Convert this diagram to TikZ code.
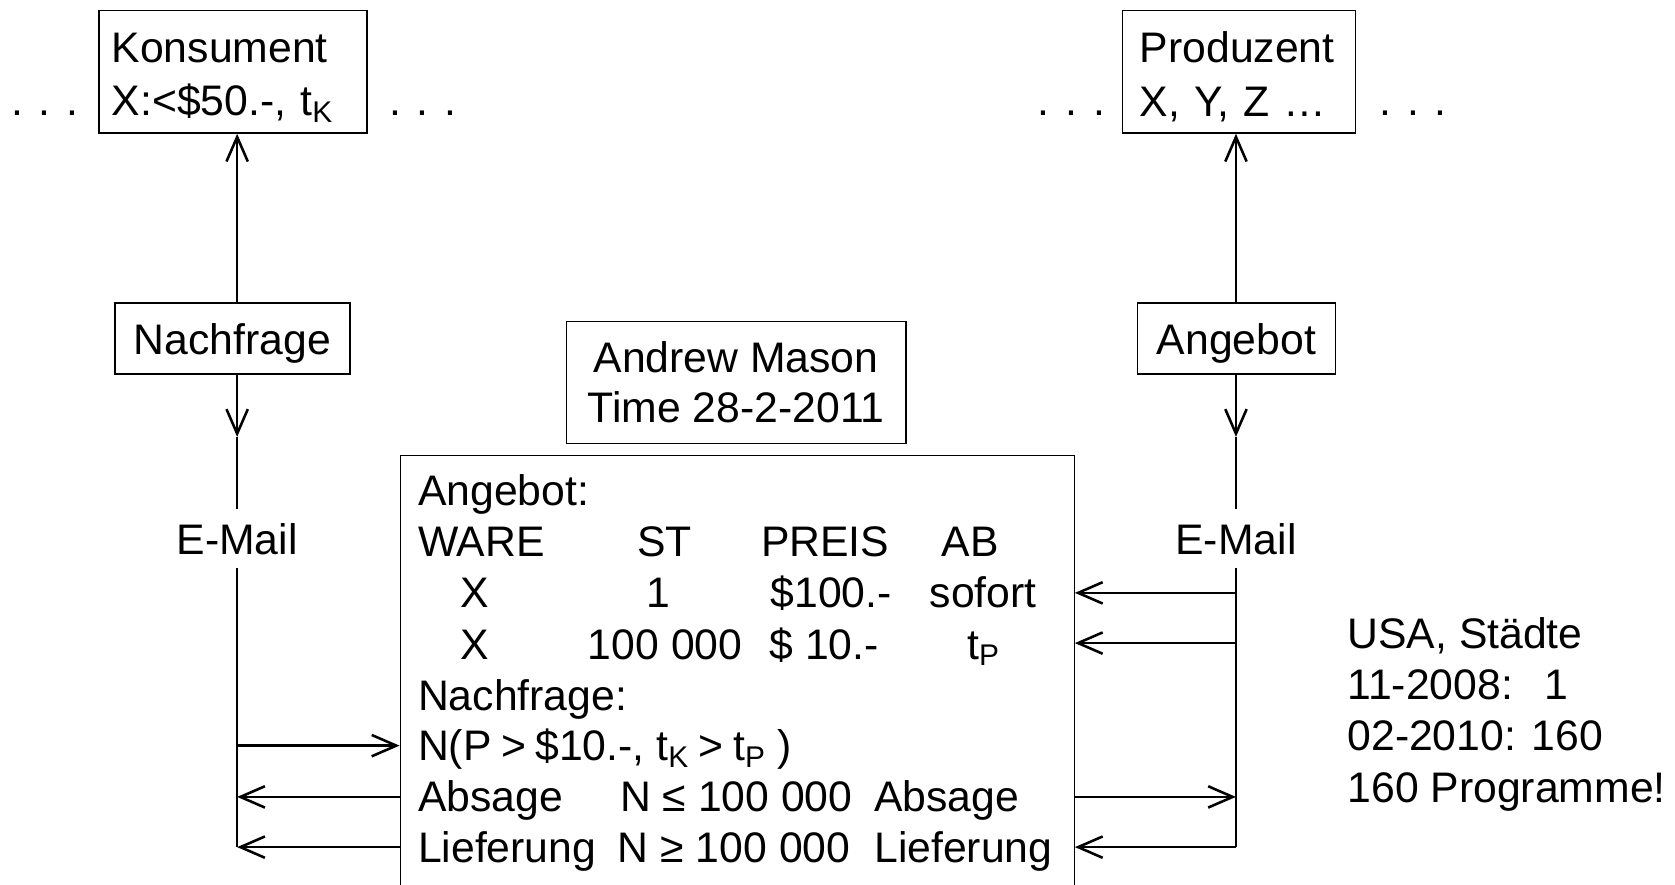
\documentclass[tikz,border=0pt]{standalone}
\usepackage{fontspec}
\setmainfont{Liberation Sans}
\usetikzlibrary{arrows.meta}
\newcommand{\sbs}[1]{\textsubscript{#1}}
\newcommand{\gsp}{\hspace{0.22em}}
\begin{document}
\begin{tikzpicture}[x=0.5pt,y=-0.5pt,
  every node/.style={font=\fontsize{20pt}{24pt}\selectfont},
  box/.style={draw, line width=0.6pt, inner sep=0pt},
  txt/.style={anchor=base west, inner sep=0pt},
  conn/.style={line width=1.2pt},
  arr/.style={conn, -{Straight Barb[length=11.5pt,width=10pt]}},
  mail/.style={anchor=base, inner xsep=0pt, inner ysep=6pt, text height=15pt, text depth=0pt},
]
\useasboundingbox (0,0) rectangle (1568,828);

% top boxes
\node[box, anchor=north west, minimum width=125.5pt, minimum height=57.3pt,
  text width=113.5pt, align=left, font=\fontsize{20pt}{25pt}\selectfont]
  (kons) at (92,9.4) {\rule{0pt}{19pt}Konsument\\X:<\$50.-, t\sbs{K}};
\node[box, anchor=north west, minimum width=108.8pt, minimum height=57.3pt,
  text width=92.8pt, align=left, font=\fontsize{20pt}{25pt}\selectfont]
  (prod) at (1050.4,9.4) {\rule{0pt}{19pt}Produzent\\X, Y, Z …};
\node[txt] (d1) at (10,108) {. . .};
\node[txt] (d2) at (364,108) {. . .};
\node[txt] (d3) at (971,108) {. . .};
\node[txt] (d4) at (1291,108) {. . .};

% middle boxes
\node[box, minimum width=110pt, minimum height=33.2pt, text height=14.6pt, text depth=0pt] (nach) at (217.7,316.8) {Nachfrage};
\node[box, minimum width=92.5pt, minimum height=33.2pt, text height=14.6pt, text depth=0pt] (ang) at (1157.5,316.8) {Angebot};
\node[box, minimum width=159pt, minimum height=57pt, align=center,
  font=\fontsize{20pt}{23.5pt}\selectfont] (am) at (689,358) {Andrew Mason\\Time 28-2-2011};

% big box
\node[box, anchor=north west, minimum width=315.5pt, minimum height=215pt] (big) at (374,426) {};
\node[txt] (r1) at (391,473) {Angebot:};
\node[txt] (r2a) at (391,521) {WARE};
\node[txt] (r2b) at (596,521) {ST};
\node[txt] (r2c) at (712,521) {PREIS};
\node[txt] (r2d) at (881,521) {AB};
\node[txt] (r3a) at (431,569) {X};
\node[txt] (r3b) at (605,569) {1};
\node[txt] (r3c) at (721,569) {\$100.-};
\node[txt] (r3d) at (870,569) {sofort};
\node[txt] (r4a) at (431,617) {X};
\node[txt] (r4b) at (550,617) {100 000};
\node[txt] (r4c) at (720,617) {\$ 10.-};
\node[txt] (r4d) at (905,617) {t\sbs{P}};
\node[txt] (r5) at (391,665) {Nachfrage:};
\node[txt] (r6) at (391,712) {N(P\gsp>\gsp\$10.-, t\sbs{K}\gsp>\gsp t\sbs{P} )};
\node[txt] (r7a) at (391,760) {Absage};
\node[txt] (r7b) at (580,760) {N ≤ 100 000};
\node[txt] (r7c) at (818,760) {Absage};
\node[txt] (r8a) at (391,807) {Lieferung};
\node[txt] (r8b) at (578,807) {N ≥ 100 000};
\node[txt] (r8c) at (818,807) {Lieferung};

% E-Mail labels
\node[mail] (emL) at (222,519) {E-Mail};
\node[mail] (emR) at (1157,519) {E-Mail};

% side text
\node[txt] (u1) at (1261,607) {USA, Städte};
\node[txt] (u2) at (1261,655) {11-2008:\hspace{0.73em}1};
\node[txt] (u3) at (1261,703) {02-2010: 160};
\node[txt] (u4) at (1261,751) {160 Programme!};

% coordinates
\coordinate (L1) at (222,409);
\coordinate (La) at (222,698);
\coordinate (Lb) at (222,746);
\coordinate (Lbot) at (222,793);
\coordinate (R1) at (1157,409);
\coordinate (Ra) at (1157,555);
\coordinate (Rb) at (1157,602);
\coordinate (Rc) at (1157,746);
\coordinate (Rbot) at (1157,793);

% left column
\draw[arr] (nach.north -| L1) -- (kons.south -| L1);
\draw[arr] (nach.south -| L1) -- (L1);
\draw[conn] (L1) -- (emL.north);
\draw[conn] (emL.south) -- (Lbot);
\draw[arr] (La) -- (La -| big.west);
\draw[arr] (Lb -| big.west) -- (Lb);
\draw[arr] (Lbot -| big.west) -- (Lbot);

% right column
\draw[arr] (ang.north -| R1) -- (prod.south -| R1);
\draw[arr] (ang.south -| R1) -- (R1);
\draw[conn] (R1) -- (emR.north);
\draw[conn] (emR.south) -- (Rbot);
\draw[arr] (Ra) -- (Ra -| big.east);
\draw[arr] (Rb) -- (Rb -| big.east);
\draw[arr] (Rc -| big.east) -- (Rc);
\draw[arr] (Rbot) -- (Rbot -| big.east);
\end{tikzpicture}
\end{document}
